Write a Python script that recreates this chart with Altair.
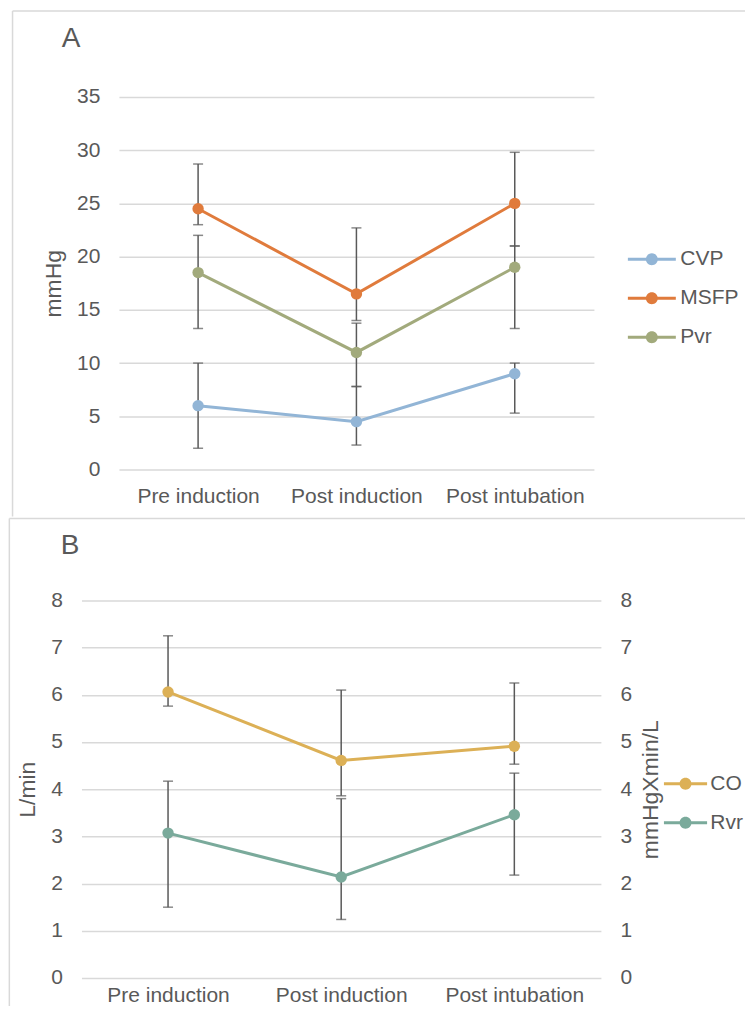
import altair as alt
import pandas as pd

FONT = "Liberation Sans"
TXT = "#595959"
GRID = "#d9d9d9"
ERR = "#595959"

cats = ["Pre induction", "Post induction", "Post intubation"]

seriesA = ["CVP", "MSFP", "Pvr"]
colorsA = ["#92b5d6", "#e07b3c", "#a2aa7c"]
cvp_mean = [6.0, 4.5, 9.0]
cvp_lo = [2.0, 2.3, 5.3]
cvp_hi = [10.0, 7.8, 10.0]
msfp_mean = [24.5, 16.5, 25.0]
msfp_lo = [23.0, 14.0, 21.0]
msfp_hi = [28.7, 22.7, 29.8]
pvr_mean = [18.5, 11.0, 19.0]
pvr_lo = [13.25, 7.8, 13.25]
pvr_hi = [22.0, 13.75, 21.0]
ticksA = [0, 5, 10, 15, 20, 25, 30, 35]

seriesB = ["CO", "Rvr"]
colorsB = ["#dcb056", "#7aaa9b"]
co_mean = [6.06, 4.61, 4.91]
co_lo = [5.76, 3.86, 4.53]
co_hi = [7.25, 6.10, 6.25]
rvr_mean = [3.07, 2.14, 3.46]
rvr_lo = [1.50, 1.24, 2.18]
rvr_hi = [4.17, 3.80, 4.34]
ticksB = [0, 1, 2, 3, 4, 5, 6, 7, 8]


def frame(name, mean, lo, hi):
    return pd.DataFrame({
        "time": cats,
        "idx": list(range(len(cats))),
        "series": [name] * len(cats),
        "mean": mean,
        "lo": lo,
        "hi": hi,
    })


framesA = [
    frame("CVP", cvp_mean, cvp_lo, cvp_hi),
    frame("MSFP", msfp_mean, msfp_lo, msfp_hi),
    frame("Pvr", pvr_mean, pvr_lo, pvr_hi),
]
dfCO = frame("CO", co_mean, co_lo, co_hi)
dfRVR = frame("Rvr", rvr_mean, rvr_lo, rvr_hi)
deco = pd.DataFrame({"k": [0]})


def leg_path(half):
    return (f"M-{half},-0.25H{half}V0.25H-{half}Z "
            "M1,0A1,1 0 1,1 -1,0A1,1 0 1,1 1,0Z")


def x_enc(pad, rng):
    return alt.X(
        "time:N", sort=cats,
        scale=alt.Scale(domain=cats, type="point", padding=0.5, range=rng),
        axis=alt.Axis(title=None, labelAngle=0, labelFontSize=21, labelColor=TXT,
                      labelPadding=pad, domain=False, ticks=False, grid=False,
                      labelFont=FONT),
    )


def y_axis(title, values, orient="left", grid=True, offset=0):
    extra = dict(titlePadding=11)
    if orient == "right":
        extra = dict(titleAngle=270, titleBaseline="top", titlePadding=8)
    return alt.Axis(
        title=title, values=values, orient=orient, grid=grid, gridColor=GRID,
        gridWidth=1.5, domain=False, ticks=False, labelFontSize=21,
        labelColor=TXT, labelPadding=19, titleFontSize=23,
        titleFontWeight="normal", titleColor=TXT,
        labelFont=FONT, titleFont=FONT, offset=offset, **extra,
    )


def legend(lx, ly, half, loff):
    return alt.Legend(
        title=None, orient="none", legendX=lx, legendY=ly,
        symbolType=leg_path(half), symbolSize=144, symbolStrokeWidth=0,
        symbolOpacity=1, labelFontSize=21, labelColor=TXT, labelOffset=loff,
        rowPadding=17, labelFont=FONT,
    )


def series_layers(dfs, colors, yscale, axis, cscale, leg, pad, rng):
    df = pd.concat(dfs, ignore_index=True)
    x = x_enc(pad, rng)
    rule = alt.Chart(df).mark_rule(color=ERR, strokeWidth=1.5).encode(
        x=x, y=alt.Y("lo:Q", scale=yscale, axis=axis), y2="hi:Q")
    caps = alt.Chart(df).transform_fold(["lo", "hi"], as_=["end", "val"]).mark_tick(
        color=ERR, size=10, thickness=1.5).encode(
        x=x, y=alt.Y("val:Q", scale=yscale, axis=axis))
    lines = [
        alt.Chart(d).mark_line(strokeWidth=3, color=c).encode(
            x=x, y=alt.Y("mean:Q", scale=yscale, axis=axis), order="idx:Q")
        for d, c in zip(dfs, colors)
    ]
    pts = alt.Chart(df).mark_circle(size=130, opacity=1).encode(
        x=x, y=alt.Y("mean:Q", scale=yscale, axis=axis),
        fill=alt.Fill("series:N", scale=cscale, legend=leg))
    return [rule, caps, *lines, pts]


# ---------- Panel A ----------
yA = alt.Scale(domain=[0, 35], nice=False)
cA = alt.Scale(domain=seriesA, range=colorsA)
axA = y_axis("mmHg", ticksA, offset=-37.5)
legA = legend(560.5, 152, 4, 18)

decoA = [
    alt.Chart(deco).mark_rule(color=GRID, strokeWidth=1.5).encode(
        x=alt.value(-69), y=alt.value(-86), y2=alt.value(420)),
    alt.Chart(deco).mark_rule(color=GRID, strokeWidth=1.5).encode(
        x=alt.value(-69), x2=alt.value(688.5), y=alt.value(-86)),
    alt.Chart(deco).mark_rule(color=GRID, strokeWidth=1.5, strokeOpacity=0).encode(
        x=alt.value(-69), x2=alt.value(688.5), y=alt.value(420)),
    alt.Chart(deco).mark_text(text="A", fontSize=28, color=TXT, font=FONT,
                              align="center", baseline="middle").encode(
        x=alt.value(-10.5), y=alt.value(-58)),
]

panelA = alt.layer(
    *decoA,
    *series_layers(framesA, colorsA, yA, axA, cA, legA, 16, [37.5, 513]),
).properties(width=520, height=373)

# ---------- Panel B ----------
cB = alt.Scale(domain=seriesB, range=colorsB)
legB = legend(594.2, 173, 3.6, 14.3)
yL = alt.Scale(domain=[0, 8], nice=False)
yR = alt.Scale(domain=[0, 8], nice=False)
axL = y_axis("L/min", ticksB)
axR = y_axis("mmHgXmin/L", ticksB, orient="right", grid=False)

decoB = [
    alt.Chart(deco).mark_rule(color=GRID, strokeWidth=1.5).encode(
        x=alt.value(-72.2), y=alt.value(-82), y2=alt.value(406)),
    alt.Chart(deco).mark_rule(color=GRID, strokeWidth=1.5).encode(
        x=alt.value(-72.2), x2=alt.value(688.5), y=alt.value(-82)),
    alt.Chart(deco).mark_text(text="B", fontSize=28, color=TXT, font=FONT,
                              align="center", baseline="middle").encode(
        x=alt.value(-11.5), y=alt.value(-54)),
]

left = alt.layer(*series_layers([dfCO], [colorsB[0]], yL, axL, cB, legB, 7, [0, 520]))
right = alt.layer(*series_layers([dfRVR], [colorsB[1]], yR, axR, cB, legB, 7, [0, 520]))
panelB = alt.layer(*decoB, left, right).resolve_scale(y="independent").properties(
    width=520, height=378)

chart = alt.vconcat(panelA, panelB, spacing=0).resolve_scale(
    fill="independent"
).properties(
    padding={"left": 0.55, "top": 1.5, "right": -25.75, "bottom": 0}
).configure_view(stroke=None)

chart.save("out.html", embed_options={"renderer": "svg", "actions": False})
